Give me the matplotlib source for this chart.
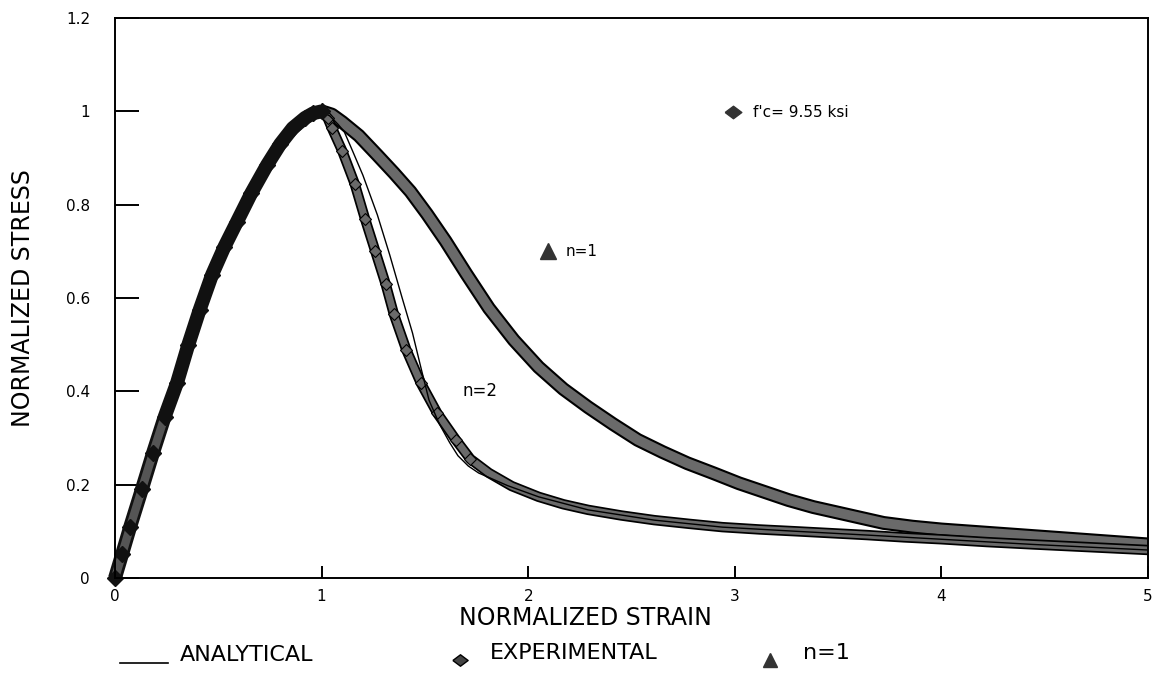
import matplotlib
matplotlib.use("Agg")
import matplotlib.pyplot as plt
import matplotlib.patheffects as pe
from matplotlib.lines import Line2D

# Rising branch (shared by all curves)
rise_x = [0.0, 0.035, 0.073, 0.13, 0.184, 0.24, 0.30, 0.355, 0.41, 0.47, 0.53,
          0.59, 0.66, 0.736, 0.80, 0.86, 0.92, 0.96, 1.0]
rise_y = [0.0, 0.052, 0.109, 0.19, 0.268, 0.345, 0.418, 0.50, 0.575, 0.65, 0.71,
          0.763, 0.825, 0.885, 0.93, 0.964, 0.986, 0.996, 1.0]

# Experimental descending branch (diamonds)
exp_x = [1.0, 1.03, 1.05, 1.10, 1.16, 1.21, 1.26, 1.31, 1.35, 1.41, 1.48, 1.56,
         1.65, 1.72, 1.81, 1.92, 2.05, 2.17, 2.29, 2.45, 2.61, 2.78, 2.94, 3.12,
         3.30, 3.47, 3.64, 3.82, 4.00, 4.22, 4.44, 4.72, 5.0]
exp_y = [1.0, 0.985, 0.964, 0.915, 0.845, 0.77, 0.70, 0.63, 0.565, 0.489, 0.418,
         0.353, 0.296, 0.255, 0.225, 0.197, 0.174, 0.158, 0.146, 0.134, 0.124,
         0.116, 0.109, 0.104, 0.100, 0.096, 0.092, 0.087, 0.083, 0.077, 0.072,
         0.066, 0.060]

# n=1 descending branch (triangles)
n1_x = [1.0, 1.05, 1.10, 1.18, 1.27, 1.35, 1.43, 1.51, 1.60, 1.70, 1.81, 1.93,
        2.05, 2.17, 2.29, 2.41, 2.53, 2.65, 2.77, 2.90, 3.02, 3.14, 3.26, 3.38,
        3.51, 3.62, 3.72, 3.86, 4.00, 4.22, 4.44, 4.72, 5.0]
n1_y = [1.0, 0.993, 0.977, 0.948, 0.906, 0.868, 0.828, 0.78, 0.722, 0.652, 0.578,
        0.51, 0.452, 0.405, 0.366, 0.33, 0.296, 0.27, 0.246, 0.224, 0.203, 0.185,
        0.167, 0.152, 0.139, 0.128, 0.118, 0.110, 0.104, 0.097, 0.090, 0.081,
        0.072]

# Analytical curve (thin line)
ana_x = [1.0, 1.04, 1.08, 1.11, 1.15, 1.20, 1.27, 1.33, 1.39, 1.44, 1.48, 1.52,
         1.57, 1.62, 1.66, 1.71, 1.76, 1.90, 2.05, 2.29, 2.61, 2.94, 3.30, 3.64,
         4.00, 4.44, 5.0]
ana_y = [1.0, 0.99, 0.972, 0.956, 0.915, 0.863, 0.778, 0.692, 0.600, 0.525, 0.452,
         0.381, 0.330, 0.290, 0.262, 0.240, 0.225, 0.198, 0.174, 0.146, 0.124,
         0.109, 0.100, 0.092, 0.083, 0.072, 0.060]

x_ticks = [0, 1, 2, 3, 4, 5]
y_ticks = [0, 0.2, 0.4, 0.6, 0.8, 1.0, 1.2]
y_labels = ["0", "0.2", "0.4", "0.6", "0.8", "1", "1.2"]

plt.rcParams["font.family"] = ["DejaVu Sans"]

W, H = 1153, 675
fig = plt.figure(figsize=(W / 100, H / 100), dpi=100)
ax = fig.add_axes([115 / W, 1 - 578 / H, (1148 - 115) / W, (578 - 18) / H])

def fx(px):
    return px / W

def fy(py):
    return 1 - py / H

band_gray = "#6a6a6a"

# wide n=1 band
ax.plot(n1_x, n1_y, color=band_gray, lw=7, solid_capstyle="butt", clip_on=False,
        path_effects=[pe.Stroke(linewidth=10, foreground="black"), pe.Normal()])
# experimental band
ax.plot(exp_x, exp_y, color=band_gray, lw=5.0, solid_capstyle="butt", clip_on=False,
        path_effects=[pe.Stroke(linewidth=7.5, foreground="black"), pe.Normal()])
ax.plot(exp_x[:14], exp_y[:14], ls="none", marker="D", ms=6.5, mfc=band_gray,
        mec="black", mew=0.8, clip_on=False)
# analytical line
ax.plot(ana_x, ana_y, color="black", lw=1.0)
# rising branch
ax.plot(rise_x, rise_y, color="#111111", lw=10, solid_capstyle="butt", clip_on=False)
ax.plot(rise_x[:6], rise_y[:6], color="#555555", lw=6, solid_capstyle="butt",
        clip_on=False)
ax.plot(rise_x, rise_y, ls="none", marker="D", ms=8, color="#111111", clip_on=False)

# annotations
diamond = [(-1, 0), (0, 0.75), (1, 0), (0, -0.75), (-1, 0)]
ax.plot([2.99], [0.998], ls="none", marker=diamond, ms=12, color="#333333")
ax.text(3.088, 0.998, "f'c= 9.55 ksi", fontsize=11, va="center", ha="left")
ax.plot([2.098], [0.700], ls="none", marker="^", ms=11, color="#333333")
ax.text(2.18, 0.700, "n=1", fontsize=11, va="center", ha="left")
ax.text(1.684, 0.401, "n=2", fontsize=12, va="center", ha="left")

ax.set_xlim(0, 5)
ax.set_ylim(0, 1.2)
ax.set_xticks(x_ticks)
ax.set_xticklabels([str(t) for t in x_ticks])
ax.set_yticks(y_ticks)
ax.set_yticklabels(y_labels)
ax.tick_params(axis="y", direction="in", length=17, width=1.4, pad=18, labelsize=11)
ax.tick_params(axis="x", direction="in", length=9, width=1.4, pad=8, labelsize=11)
for s in ax.spines.values():
    s.set_linewidth(1.4)

# axis titles
fig.text(fx(585), fy(618), "NORMALIZED STRAIN", fontsize=17, ha="center", va="center")
fig.text(fx(23), fy(298), "NORMALIZED STRESS", fontsize=17, ha="center", va="center",
         rotation=90)

# legend row
fig.add_artist(Line2D([fx(120), fx(168)], [fy(663), fy(663)], color="black", lw=1.2))
fig.text(fx(180), fy(655), "ANALYTICAL", fontsize=16, ha="left", va="center")
fig.add_artist(Line2D([fx(460)], [fy(660)], marker=diamond, ms=11, ls="none",
                      color="#444444", mec="black"))
fig.text(fx(490), fy(653), "EXPERIMENTAL", fontsize=16, ha="left", va="center")
fig.add_artist(Line2D([fx(770)], [fy(660)], marker="^", ms=10, ls="none",
                      color="#333333"))
fig.text(fx(803), fy(653), "n=1", fontsize=16, ha="left", va="center")

fig.savefig("out.png", dpi=100)
